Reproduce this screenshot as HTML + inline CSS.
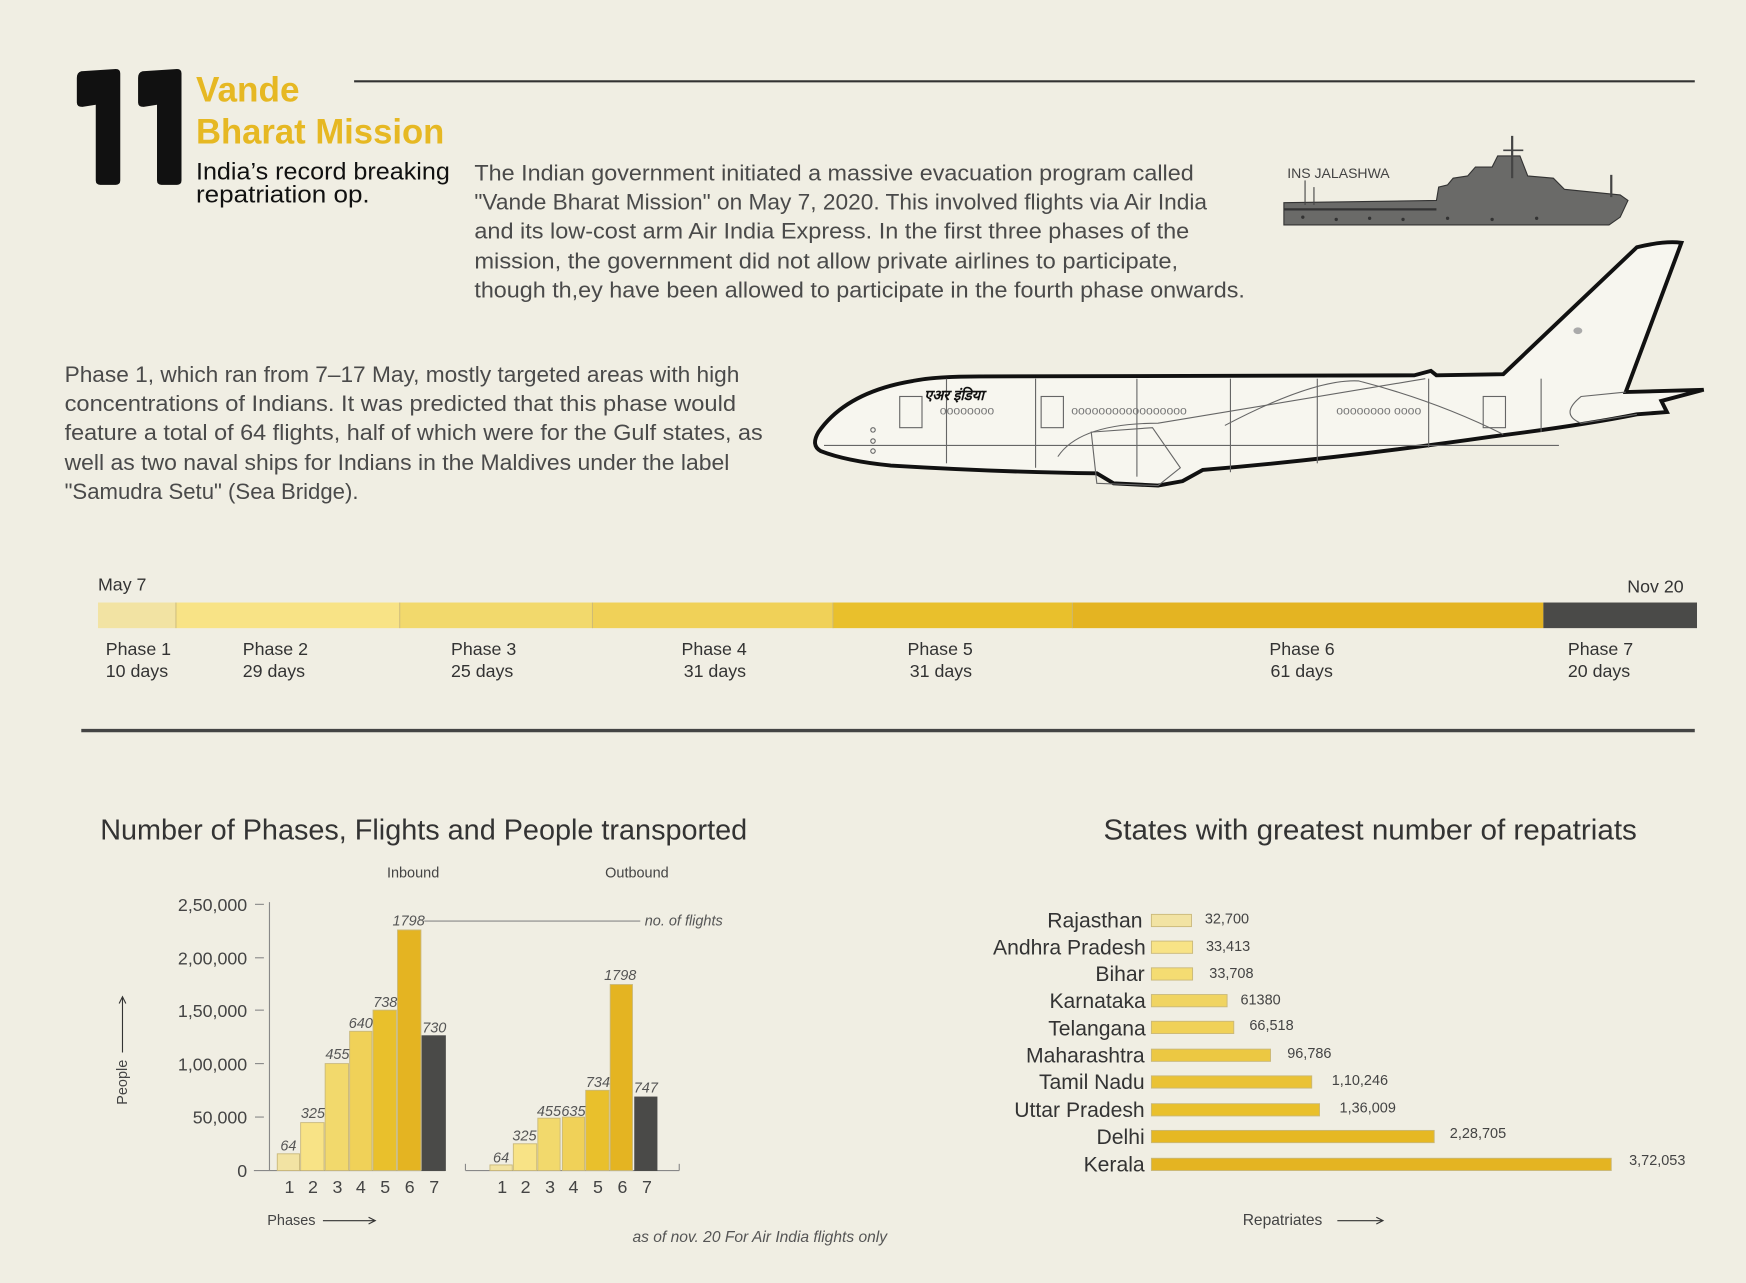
<!DOCTYPE html>
<html><head><meta charset="utf-8"><style>
html,body{margin:0;padding:0;background:#f0eee3;}
svg{display:block}
text{font-family:"Liberation Sans",sans-serif;}
</style></head><body>
<svg width="1746" height="1283" viewBox="0 0 1568 1152" preserveAspectRatio="none" xmlns="http://www.w3.org/2000/svg">
<rect width="1568" height="1152" fill="#f0eee3"/>
<!-- header -->
<path d="M73 64 L104 62 Q108 62 108 66 L108 162 Q108 166 104 166 L90 166 Q86 166 86 162 L86 94 L74 96 Q69 96 69 92 L69 70 Q69 65 73 64 Z" fill="#111"/>
<path d="M128 64 L159 62 Q163 62 163 66 L163 162 Q163 166 159 166 L145 166 Q141 166 141 162 L141 94 L129 96 Q124 96 124 92 L124 70 Q124 65 128 64 Z" fill="#111"/>
<text x="176" y="91" font-size="32" font-weight="bold" fill="#e6b823" textLength="93" lengthAdjust="spacingAndGlyphs">Vande</text>
<text x="176" y="129" font-size="32" font-weight="bold" fill="#e6b823" textLength="223" lengthAdjust="spacingAndGlyphs">Bharat Mission</text>
<text x="176" y="161" font-size="22" fill="#111" textLength="228" lengthAdjust="spacingAndGlyphs">India’s record breaking</text>
<text x="176" y="182" font-size="22" fill="#111" textLength="156" lengthAdjust="spacingAndGlyphs">repatriation op.</text>
<line x1="318" y1="73" x2="1522" y2="73" stroke="#333" stroke-width="2"/>
<g font-size="20" fill="#4a4a4a">
<text x="426" y="162" textLength="646" lengthAdjust="spacingAndGlyphs">The Indian government initiated a massive evacuation program called</text>
<text x="426" y="188" textLength="658" lengthAdjust="spacingAndGlyphs">"Vande Bharat Mission" on May 7, 2020. This involved flights via Air India</text>
<text x="426" y="214" textLength="642" lengthAdjust="spacingAndGlyphs">and its low-cost arm Air India Express. In the first three phases of the</text>
<text x="426" y="241" textLength="632" lengthAdjust="spacingAndGlyphs">mission, the government did not allow private airlines to participate,</text>
<text x="426" y="267" textLength="692" lengthAdjust="spacingAndGlyphs">though th,ey have been allowed to participate in the fourth phase onwards.</text>
<text x="58" y="343" textLength="606" lengthAdjust="spacingAndGlyphs">Phase 1, which ran from 7–17 May, mostly targeted areas with high</text>
<text x="58" y="369" textLength="603" lengthAdjust="spacingAndGlyphs">concentrations of Indians. It was predicted that this phase would</text>
<text x="58" y="395" textLength="627" lengthAdjust="spacingAndGlyphs">feature a total of 64 flights, half of which were for the Gulf states, as</text>
<text x="58" y="422" textLength="597" lengthAdjust="spacingAndGlyphs">well as two naval ships for Indians in the Maldives under the label</text>
<text x="58" y="448" textLength="264" lengthAdjust="spacingAndGlyphs">"Samudra Setu" (Sea Bridge).</text>
</g>
<!-- ship -->
<text x="1156" y="160" font-size="12" fill="#444" textLength="92" lengthAdjust="spacingAndGlyphs">INS JALASHWA</text>
<path d="M1153 182 L1290 180 L1292 168 L1300 166 L1305 160 L1318 158 L1325 150 L1340 150 L1345 140 L1365 140 L1372 158 L1395 160 L1405 170 L1455 175 L1462 180 L1455 195 L1445 202 L1153 202 Z" fill="#6a6a68" stroke="#333" stroke-width="1"/>
<line x1="1358" y1="122" x2="1358" y2="160" stroke="#444" stroke-width="2"/>
<line x1="1350" y1="135" x2="1368" y2="135" stroke="#444" stroke-width="1.5"/>
<line x1="1447" y1="157" x2="1447" y2="177" stroke="#444" stroke-width="2"/>
<line x1="1172" y1="162" x2="1172" y2="184" stroke="#444"/>
<line x1="1180" y1="168" x2="1180" y2="184" stroke="#444"/>
<line x1="1153" y1="188" x2="1290" y2="188" stroke="#333" stroke-width="2"/>
<g fill="#333"><circle cx="1170" cy="195" r="1.5"/><circle cx="1200" cy="197" r="1.5"/><circle cx="1230" cy="196" r="1.5"/><circle cx="1260" cy="197" r="1.5"/><circle cx="1300" cy="196" r="1.5"/><circle cx="1340" cy="197" r="1.5"/><circle cx="1380" cy="196" r="1.5"/></g>
<!-- plane -->
<g fill="none" stroke="#111">
<path d="M1350 336 L1470 222 Q1495 216 1510 218 L1460 352 L1530 350 L1492 360 L1497 370 L1470 372 Q1420 382 1340 392 Q1200 412 1080 422 L1062 432 L1040 436 L1000 434 L985 425 Q900 424 800 418 Q760 414 737 405 Q728 400 735 388 Q760 352 820 342 Q840 338 880 338 L1270 337 L1285 333 L1290 337 Z" stroke-width="3.5" fill="#f7f6ef"/>
<g stroke="#666" stroke-width="1">
<line x1="850" y1="340" x2="850" y2="416"/><line x1="930" y1="340" x2="930" y2="420"/><line x1="1021" y1="340" x2="1021" y2="428"/><line x1="1105" y1="340" x2="1105" y2="424"/><line x1="1183" y1="340" x2="1183" y2="416"/><line x1="1283" y1="340" x2="1283" y2="402"/><line x1="1384" y1="340" x2="1384" y2="388"/>
<line x1="740" y1="400" x2="1400" y2="400"/>
<path d="M950 410 Q970 380 1040 380 L1280 340"/>
<path d="M980 388 L1035 384 L1060 420 L1040 436 L985 434 Z"/>
<path d="M1100 382 Q1180 340 1220 342 Q1290 360 1350 390"/>
<path d="M1460 352 L1420 356 Q1400 372 1420 380 L1470 372"/>
<rect x="808" y="356" width="20" height="28"/><rect x="935" y="356" width="20" height="28"/><rect x="1332" y="356" width="20" height="28"/>
</g>
<g fill="#777" font-size="11" stroke="none"><text x="844" y="372">oooooooo</text><text x="962" y="372">ooooooooooooooooo</text><text x="1200" y="372">oooooooo  oooo</text></g>
<circle cx="784" cy="386" r="2" stroke="#666"/><circle cx="784" cy="396" r="2" stroke="#666"/><circle cx="784" cy="405" r="2" stroke="#666"/>
</g>
<text x="830" y="359" font-size="13" font-weight="bold" font-style="italic" fill="#111">एअर इंडिया</text>
<ellipse cx="1417" cy="297" rx="4" ry="3" fill="#aaa"/>
<!-- timeline -->
<text x="88" y="530" font-size="16" fill="#333">May 7</text>
<text x="1512" y="532" font-size="16" fill="#333" text-anchor="end">Nov 20</text>
<rect x="88" y="541" width="70" height="23" fill="#f2e3a3"/>
<rect x="158" y="541" width="201" height="23" fill="#f8e386"/>
<rect x="359" y="541" width="173" height="23" fill="#f2d96c"/>
<rect x="532" y="541" width="216" height="23" fill="#f0d158"/>
<rect x="748" y="541" width="215" height="23" fill="#e9c02c"/>
<rect x="963" y="541" width="423" height="23" fill="#e4b422"/>
<rect x="1386" y="541" width="138" height="23" fill="#4a4a48"/>
<g stroke="#c9b87a" stroke-width="0.8"><line x1="158" y1="541" x2="158" y2="564"/><line x1="359" y1="541" x2="359" y2="564"/><line x1="532" y1="541" x2="532" y2="564"/><line x1="748" y1="541" x2="748" y2="564"/><line x1="963" y1="541" x2="963" y2="564"/></g>
<g font-size="16" fill="#333">
<text x="95" y="588">Phase 1</text><text x="95" y="608">10 days</text>
<text x="218" y="588">Phase 2</text><text x="218" y="608">29 days</text>
<text x="405" y="588">Phase 3</text><text x="405" y="608">25 days</text>
<text x="612" y="588">Phase 4</text><text x="614" y="608">31 days</text>
<text x="815" y="588">Phase 5</text><text x="817" y="608">31 days</text>
<text x="1140" y="588">Phase 6</text><text x="1141" y="608">61 days</text>
<text x="1408" y="588">Phase 7</text><text x="1408" y="608">20 days</text>
</g>
<line x1="73" y1="656" x2="1522" y2="656" stroke="#444" stroke-width="3"/>
<!-- titles -->
<text x="90" y="754" font-size="26" fill="#333" textLength="581" lengthAdjust="spacingAndGlyphs">Number of Phases, Flights and People transported</text>
<text x="991" y="754" font-size="26" fill="#333" textLength="479" lengthAdjust="spacingAndGlyphs">States with greatest number of repatriats</text>
<!-- left chart -->
<text x="371" y="788" font-size="13" fill="#444" text-anchor="middle">Inbound</text>
<text x="572" y="788" font-size="13" fill="#444" text-anchor="middle">Outbound</text>
<g stroke="#888" stroke-width="1">
<line x1="242" y1="810" x2="242" y2="1051"/>
<line x1="228" y1="1051" x2="400" y2="1051"/>
<line x1="418" y1="1051" x2="610" y2="1051"/>
<line x1="418" y1="1045" x2="418" y2="1051"/><line x1="610" y1="1045" x2="610" y2="1051"/>
<line x1="229" y1="812" x2="237" y2="812"/><line x1="229" y1="860" x2="237" y2="860"/><line x1="229" y1="907" x2="237" y2="907"/><line x1="229" y1="955" x2="237" y2="955"/><line x1="229" y1="1003" x2="237" y2="1003"/>
<line x1="381" y1="827" x2="575" y2="827"/>
</g>
<g font-size="16" fill="#444" text-anchor="end">
<text x="222" y="818">2,50,000</text><text x="222" y="866">2,00,000</text><text x="222" y="913">1,50,000</text><text x="222" y="961">1,00,000</text><text x="222" y="1009">50,000</text><text x="222" y="1057">0</text>
</g>
<g stroke="#c9b87a" stroke-width="0.8">
<rect x="249" y="1036" width="20" height="15" fill="#f2e3a3"/>
<rect x="270" y="1008" width="21" height="43" fill="#f8e386"/>
<rect x="292" y="955" width="21" height="96" fill="#f2d96c"/>
<rect x="314" y="926" width="20" height="125" fill="#f0d158"/>
<rect x="335" y="907" width="21" height="144" fill="#e9c02c"/>
<rect x="357" y="835" width="21" height="216" fill="#e4b422"/>
<rect x="379" y="930" width="21" height="121" fill="#4a4a48" stroke="#4a4a48"/>
<rect x="440" y="1046" width="20" height="5" fill="#f2e3a3"/>
<rect x="461" y="1027" width="21" height="24" fill="#f8e386"/>
<rect x="483" y="1004" width="20" height="47" fill="#f2d96c"/>
<rect x="505" y="1003" width="20" height="48" fill="#f0d158"/>
<rect x="526" y="979" width="21" height="72" fill="#e9c02c"/>
<rect x="548" y="884" width="20" height="167" fill="#e4b422"/>
<rect x="570" y="985" width="20" height="66" fill="#4a4a48" stroke="#4a4a48"/>
</g>
<g font-size="13" font-style="italic" fill="#555" text-anchor="middle">
<text x="259" y="1033">64</text><text x="281" y="1004">325</text><text x="303" y="951">455</text><text x="324" y="923">640</text><text x="346" y="904">738</text><text x="367" y="831">1798</text><text x="390" y="927">730</text>
<text x="450" y="1044">64</text><text x="471" y="1024">325</text><text x="493" y="1002">455</text><text x="515" y="1002">635</text><text x="537" y="976">734</text><text x="557" y="880">1798</text><text x="580" y="981">747</text>
<text x="579" y="831" text-anchor="start">no. of flights</text>
<text x="568" y="1115" text-anchor="start" font-size="14">as of nov. 20  For Air India flights only</text>
</g>
<g font-size="16" fill="#444" text-anchor="middle">
<text x="260" y="1071">1</text><text x="281" y="1071">2</text><text x="303" y="1071">3</text><text x="324" y="1071">4</text><text x="346" y="1071">5</text><text x="368" y="1071">6</text><text x="390" y="1071">7</text>
<text x="451" y="1071">1</text><text x="472" y="1071">2</text><text x="494" y="1071">3</text><text x="515" y="1071">4</text><text x="537" y="1071">5</text><text x="559" y="1071">6</text><text x="581" y="1071">7</text>
</g>
<text transform="translate(114,992) rotate(-90)" font-size="13" fill="#444">People</text>
<path d="M110 945 L110 896 M107 901 L110 895 L113 901" stroke="#333" fill="none"/>
<text x="240" y="1100" font-size="13" fill="#444">Phases</text>
<path d="M290 1096 L336 1096 M331 1093 L337 1096 L331 1099" stroke="#333" fill="none"/>
<!-- right chart -->
<g stroke="#c9b87a" stroke-width="0.8">
<rect x="1034" y="821" width="36" height="11" fill="#f2e3a3"/>
<rect x="1034" y="845" width="37" height="11" fill="#f8e386"/>
<rect x="1034" y="869" width="37" height="11" fill="#f4dc72"/>
<rect x="1034" y="893" width="68" height="11" fill="#f0d462"/>
<rect x="1034" y="917" width="74" height="11" fill="#f0d158"/>
<rect x="1034" y="942" width="107" height="11" fill="#ecc842"/>
<rect x="1034" y="966" width="144" height="11" fill="#eac235"/>
<rect x="1034" y="991" width="151" height="11" fill="#e9c02c"/>
<rect x="1034" y="1015" width="254" height="11" fill="#e6b823"/>
<rect x="1034" y="1040" width="413" height="11" fill="#e4b422"/>
</g>
<g font-size="19" fill="#333" text-anchor="end">
<text x="1026" y="833">Rajasthan</text><text x="1029" y="857">Andhra Pradesh</text><text x="1028" y="881">Bihar</text><text x="1029" y="905">Karnataka</text><text x="1029" y="930">Telangana</text><text x="1028" y="954">Maharashtra</text><text x="1028" y="978">Tamil Nadu</text><text x="1028" y="1003">Uttar Pradesh</text><text x="1028" y="1027">Delhi</text><text x="1028" y="1052">Kerala</text>
</g>
<g font-size="13" fill="#444">
<text x="1082" y="829">32,700</text><text x="1083" y="854">33,413</text><text x="1086" y="878">33,708</text><text x="1114" y="902">61380</text><text x="1122" y="925">66,518</text><text x="1156" y="950">96,786</text><text x="1196" y="974">1,10,246</text><text x="1203" y="999">1,36,009</text><text x="1302" y="1022">2,28,705</text><text x="1463" y="1046">3,72,053</text>
</g>
<text x="1116" y="1100" font-size="14" fill="#444">Repatriates</text>
<path d="M1201 1096 L1241 1096 M1236 1093 L1242 1096 L1236 1099" stroke="#333" fill="none"/>
</svg>
</body></html>
